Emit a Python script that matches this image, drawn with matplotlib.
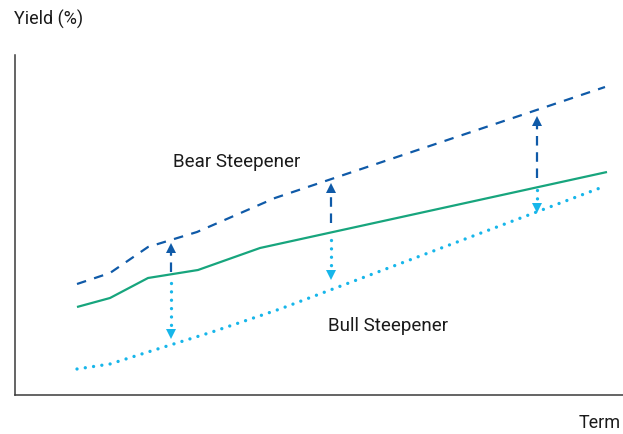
import matplotlib
matplotlib.use("Agg")
import matplotlib.pyplot as plt

plt.rcParams['font.family'] = ['Roboto', 'DejaVu Sans']

# Term axis runs in arbitrary units; yields likewise (illustrative curves)
base_term = [77, 110, 148, 198, 260, 607]
base_yield = [88, 97, 117, 125, 147, 223]

bear_term = [77, 110, 148, 197, 275, 605]
bear_yield = [111, 122, 148, 163, 197, 308]

bull_term = [77, 110, 148, 212, 280, 600]
bull_yield = [26, 31, 43, 63, 86, 207]

# Shift arrows: (term, start, end)
bear_arrows = [(171, 123, 147), (331, 172, 207), (537, 217, 274)]
bull_arrows = [(171, 112, 61), (331, 155, 120), (537, 205, 187)]

DARK_BLUE = '#0f5aa8'
GREEN = '#17a57d'
LIGHT_BLUE = '#17b6ea'
TEXT = '#1a1a1a'

W, H = 623, 434
fig = plt.figure(figsize=(W / 100, H / 100), dpi=100)
ax = fig.add_axes([15 / W, 39 / H, 608 / W, 340 / H])
ax.set_xlim(15, 623)
ax.set_ylim(0, 340)

for s in ('top', 'right'):
    ax.spines[s].set_visible(False)
for s in ('left', 'bottom'):
    ax.spines[s].set_color('#3a3a3a')
    ax.spines[s].set_linewidth(1.1)
ax.set_xticks([])
ax.set_yticks([])

ax.plot(base_term, base_yield, color=GREEN, lw=1.6, solid_capstyle='butt')
ax.plot(bear_term, bear_yield, color=DARK_BLUE, lw=1.6,
        linestyle=(0, (4.3, 3.8)), dash_capstyle='butt')
ax.plot(bull_term, bull_yield, color=LIGHT_BLUE, lw=2.4,
        linestyle=(0, (0.01, 2.5)), dash_capstyle='round')

for x, y0, y1 in bear_arrows:
    ax.plot([x, x], [y0, y1 - 3], color=DARK_BLUE, lw=1.6,
            linestyle=(0, (4.3, 3.0)), dash_capstyle='butt')
    ax.plot([x], [y1], marker='^', color=DARK_BLUE, ms=6.5, mew=0)

for x, y0, y1 in bull_arrows:
    ax.plot([x, x], [y0, y1 + 3], color=LIGHT_BLUE, lw=2.4,
            linestyle=(0, (0.01, 2.5)), dash_capstyle='round')
    ax.plot([x], [y1], marker='v', color=LIGHT_BLUE, ms=6.5, mew=0)

ax.text(173, 395 - 162, 'Bear Steepener', fontsize=13.5, color=TEXT,
        ha='left', va='center')
ax.text(328, 395 - 326, 'Bull Steepener', fontsize=13.5, color=TEXT,
        ha='left', va='center')

fig.text(14 / W, 1 - 19 / H, 'Yield (%)', fontsize=13, color=TEXT,
         ha='left', va='center')
fig.text(621 / W, 1 - 423 / H, 'Term', fontsize=13, color=TEXT,
         ha='right', va='center')

fig.savefig('out.png', dpi=100)
